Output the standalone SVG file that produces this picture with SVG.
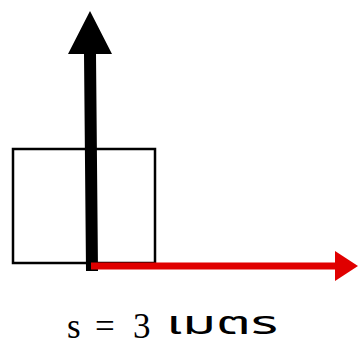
<svg xmlns="http://www.w3.org/2000/svg" width="358" height="349" viewBox="0 0 358 349">
<style>
.box{fill:none;stroke:#000;stroke-width:2.5}
.lat{font-family:"Liberation Serif",serif;font-size:35px;fill:#000}
.th{font-family:"Noto Sans Thai","Noto Serif Thai","Liberation Serif",serif;font-size:32px;fill:#000}
</style>
<rect width="358" height="349" fill="#fff"/>
<g id="block">
<rect class="box" x="13" y="149" width="142" height="114"/>
</g>
<g id="connectors">
<polygon id="force" points="90,11 112,54 96,54 98,271 86,271 84,54 68,54" fill="#000"/>
<g id="displacement">
<line x1="91" y1="266" x2="337" y2="266" stroke="#e00000" stroke-width="7"/>
<polygon points="335,251 358,266 335,281" fill="#e00000"/>
</g>
</g>
<g id="label">
<text class="lat" x="67" y="338">s</text>
<text class="lat" x="95" y="338">=</text>
<text class="lat" x="133" y="338">3</text>
<text class="th" x="166" y="334" textLength="112" lengthAdjust="spacingAndGlyphs">เมตร</text>
</g>
</svg>
